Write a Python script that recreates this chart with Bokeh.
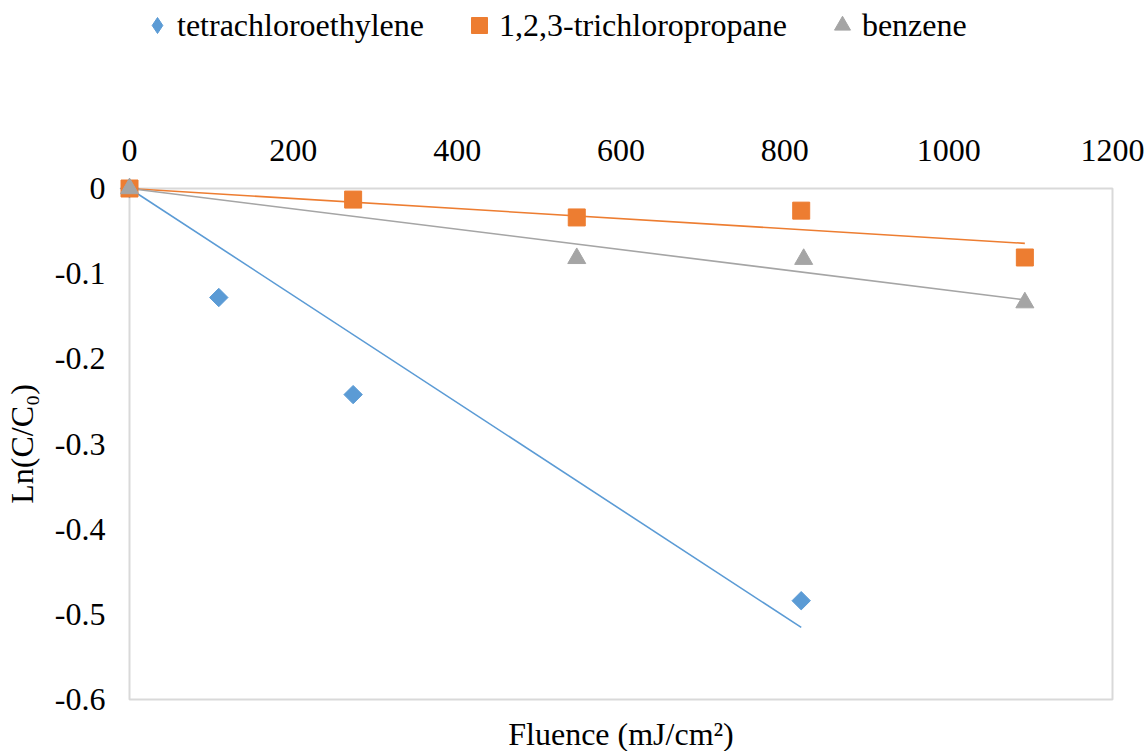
from bokeh.plotting import figure
from bokeh.layouts import column
from bokeh.models import (Legend, LegendItem, FixedTicker, Range1d, Label)
from bokeh.embed import file_html
from bokeh.resources import INLINE
import numpy as np

# ---- data ----
fluence_tce = [0, 109, 273, 820]
lnc_tce = [0, -0.128, -0.242, -0.484]

fluence_tcp = [0, 273, 546, 820, 1093]
lnc_tcp = [0, -0.013, -0.034, -0.026, -0.081]

fluence_bz = [0, 546, 823, 1093]
lnc_bz = [0, -0.082, -0.083, -0.134]

series_names = ["tetrachloroethylene", "1,2,3-trichloropropane", "benzene"]
series_colors = ["#5B9BD5", "#ED7D31", "#A5A5A5"]
legend_markers = ["diamond", "square", "triangle"]

x_ticks = [0, 200, 400, 600, 800, 1000, 1200]
y_ticks = [0, -0.1, -0.2, -0.3, -0.4, -0.5, -0.6]
y_tick_labels = ["0", "-0.1", "-0.2", "-0.3", "-0.4", "-0.5", "-0.6"]
x_title = "Fluence (mJ/cm\u00b2)"
y_title = "Ln(C/C\u2080)"

FONT = "Liberation Serif"
FS = "32px"
TOP_H = 50
BOT_H = 35
MAIN_H = 751 - TOP_H - BOT_H

datasets = [(fluence_tce, lnc_tce), (fluence_tcp, lnc_tcp), (fluence_bz, lnc_bz)]


def strip(h, yr):
    f = figure(width=1148, height=h, output_backend="svg", toolbar_location=None,
               x_range=Range1d(x_ticks[0], x_ticks[-1]), y_range=yr,
               x_axis_location=None, y_axis_location=None,
               min_border=0, outline_line_color=None)
    f.grid.visible = False
    return f


# ---- legend strip (its y-range hides the points; only the legend shows) ----
lg = strip(TOP_H, Range1d(1, 2))
leg_items = []
for name, c, m, (xs, ys) in zip(series_names, series_colors, legend_markers, datasets):
    r = lg.scatter(xs, ys, marker=m, fill_color=c, line_color=c)
    leg_items.append(LegendItem(label=name, renderers=[r]))
# the strip's frame is aligned with the chart frame (left edge at x = 128)
legend = Legend(items=leg_items, orientation="horizontal", location=(8, 5),
                glyph_width=40, glyph_height=40, label_standoff=0,
                spacing=35, padding=0, margin=0,
                border_line_color=None, background_fill_alpha=0,
                label_text_font=FONT, label_text_font_size=FS,
                label_text_color="black")
lg.add_layout(legend, "center")

# ---- main chart ----
p = figure(width=1148, height=MAIN_H, output_backend="svg", toolbar_location=None,
           x_range=Range1d(x_ticks[0], x_ticks[-1]),
           y_range=Range1d(y_ticks[-1], y_ticks[0]),
           x_axis_location="above",
           min_border_left=128, min_border_right=36,
           min_border_top=188 - TOP_H, min_border_bottom=17)
p.background_fill_color = "white"
p.border_fill_color = "white"
p.outline_line_color = "#D9D9D9"
p.outline_line_width = 2
p.grid.visible = False

xa = p.xaxis[0]
xa.ticker = FixedTicker(ticks=x_ticks)
ya = p.yaxis[0]
ya.ticker = FixedTicker(ticks=y_ticks)
ya.major_label_overrides = dict(zip(y_ticks, y_tick_labels))
for ax in (xa, ya):
    ax.axis_line_color = None
    ax.major_tick_line_color = None
    ax.minor_tick_line_color = None
    ax.major_tick_out = 0
    ax.major_tick_in = 0
    ax.major_label_text_font = FONT
    ax.major_label_text_font_size = FS
    ax.major_label_text_color = "black"
    ax.axis_label_text_font = FONT
    ax.axis_label_text_font_size = FS
    ax.axis_label_text_font_style = "normal"
    ax.axis_label_text_color = "black"
xa.major_label_standoff = 28
ya.major_label_standoff = 24
ya.axis_label = y_title
ya.axis_label_standoff = 12

# trend lines (linear, intercept 0)
def fit_line(xs, ys):
    xs = np.asarray(xs, float)
    ys = np.asarray(ys, float)
    k = (xs * ys).sum() / (xs * xs).sum()
    xe = np.array([0.0, xs.max()])
    return xe, k * xe

for (xs, ys), c in zip(datasets, series_colors):
    xe, ye = fit_line(xs, ys)
    r = p.line(xe, ye, line_color=c, line_width=1.6)
    r.level = "overlay"

r_tce = p.scatter(fluence_tce, lnc_tce, marker="square", angle=np.pi / 4,
                  size=13, fill_color=series_colors[0], line_color=series_colors[0])
r_tcp = p.scatter(fluence_tcp, lnc_tcp, marker="square", size=17,
                  fill_color=series_colors[1], line_color=series_colors[1])
r_bz = p.scatter(fluence_bz, lnc_bz, marker="triangle", size=18,
                 fill_color=series_colors[2], line_color=series_colors[2])
for r in (r_tce, r_tcp, r_bz):
    r.level = "overlay"

# ---- x-axis title strip below the chart ----
bt = strip(BOT_H, Range1d(0, 1))
bt.add_layout(Label(x=(x_ticks[0] + x_ticks[-1]) / 2, y=18, y_units="screen",
                    text=x_title, text_align="center", text_baseline="middle",
                    text_font=FONT, text_font_size=FS, text_color="black"))

layout = column(lg, p, bt, spacing=0)
open("out.html", "w").write(file_html(layout, INLINE))
